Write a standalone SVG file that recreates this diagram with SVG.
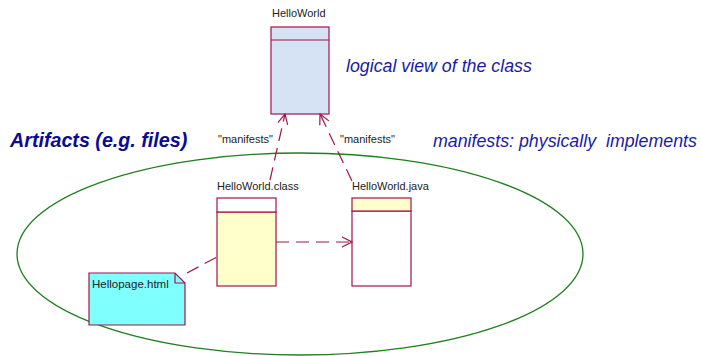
<svg xmlns="http://www.w3.org/2000/svg" width="701" height="356" viewBox="0 0 701 356">
<style>
.box{stroke:#A3134F;stroke-width:1.2}
.lbl{font-family:"Liberation Sans",Arial,sans-serif;font-size:11px;fill:#222}
.dash{stroke:#A3134F;stroke-width:1.2;fill:none;stroke-dasharray:13,7}
.note{font-family:"Liberation Sans",Arial,sans-serif;font-style:italic;fill:#1A1AA8}
</style>
<defs>
<marker id="open" markerWidth="12" markerHeight="12" refX="11" refY="6" orient="auto" markerUnits="userSpaceOnUse">
<path d="M1,1 L11,6 L1,11" fill="none" stroke="#A3134F" stroke-width="1.2"/>
</marker>
</defs>
<rect width="701" height="356" fill="#fff"/>
<ellipse id="artifacts-boundary" cx="300" cy="254" rx="283" ry="101" fill="none" stroke="#1F7F1F" stroke-width="1.3"/>
<g id="HelloWorld">
<text class="lbl" x="272" y="17">HelloWorld</text>
<rect class="box" x="271" y="27" width="58" height="87" fill="#D6E3F4"/>
<line class="box" x1="271" y1="40" x2="329" y2="40"/>
</g>
<g id="HelloWorldClass">
<text class="lbl" x="217" y="190">HelloWorld.class</text>
<rect class="box" x="217" y="212" width="59" height="74" fill="#FFFFCC"/>
<rect class="box" x="217" y="198" width="59" height="14" fill="#fff"/>
</g>
<g id="HelloWorldJava">
<text class="lbl" x="352" y="190">HelloWorld.java</text>
<rect class="box" x="352" y="211" width="59" height="75" fill="#fff"/>
<rect class="box" x="352" y="198" width="59" height="13" fill="#FFFFCC"/>
</g>
<g id="Hellopage">
<path class="box" d="M89,273 L175,273 L185,283 L185,325 L89,325 Z" fill="#80FFFF" stroke-width="1.5"/>
<path class="box" d="M175,273 L175,283 L185,283" fill="none"/>
<text x="92" y="288" font-family="'Liberation Sans',Arial,sans-serif" font-size="11.5" fill="#222">Hellopage.html</text>
</g>
<g id="connectors">
<line class="dash" x1="270" y1="180" x2="285" y2="114" marker-end="url(#open)"/>
<line class="dash" x1="352" y1="181" x2="320" y2="114" marker-end="url(#open)"/>
<line class="dash" x1="276" y1="242" x2="352" y2="242" marker-end="url(#open)"/>
<line class="dash" x1="187" y1="273" x2="217" y2="257"/>
<text class="lbl" x="218" y="143" font-size="11.5">"manifests"</text>
<text class="lbl" x="340" y="143" font-size="11.5">"manifests"</text>
</g>
<text class="note" x="346" y="72" font-size="17.8">logical view of the class</text>
<text x="10" y="147" font-family="'Liberation Sans',Arial,sans-serif" font-size="19.7" font-weight="bold" font-style="italic" fill="#0A0A96">Artifacts (e.g. files)</text>
<text class="note" x="433" y="147" font-size="17.8" style="white-space:pre">manifests: physically  implements</text>
</svg>
